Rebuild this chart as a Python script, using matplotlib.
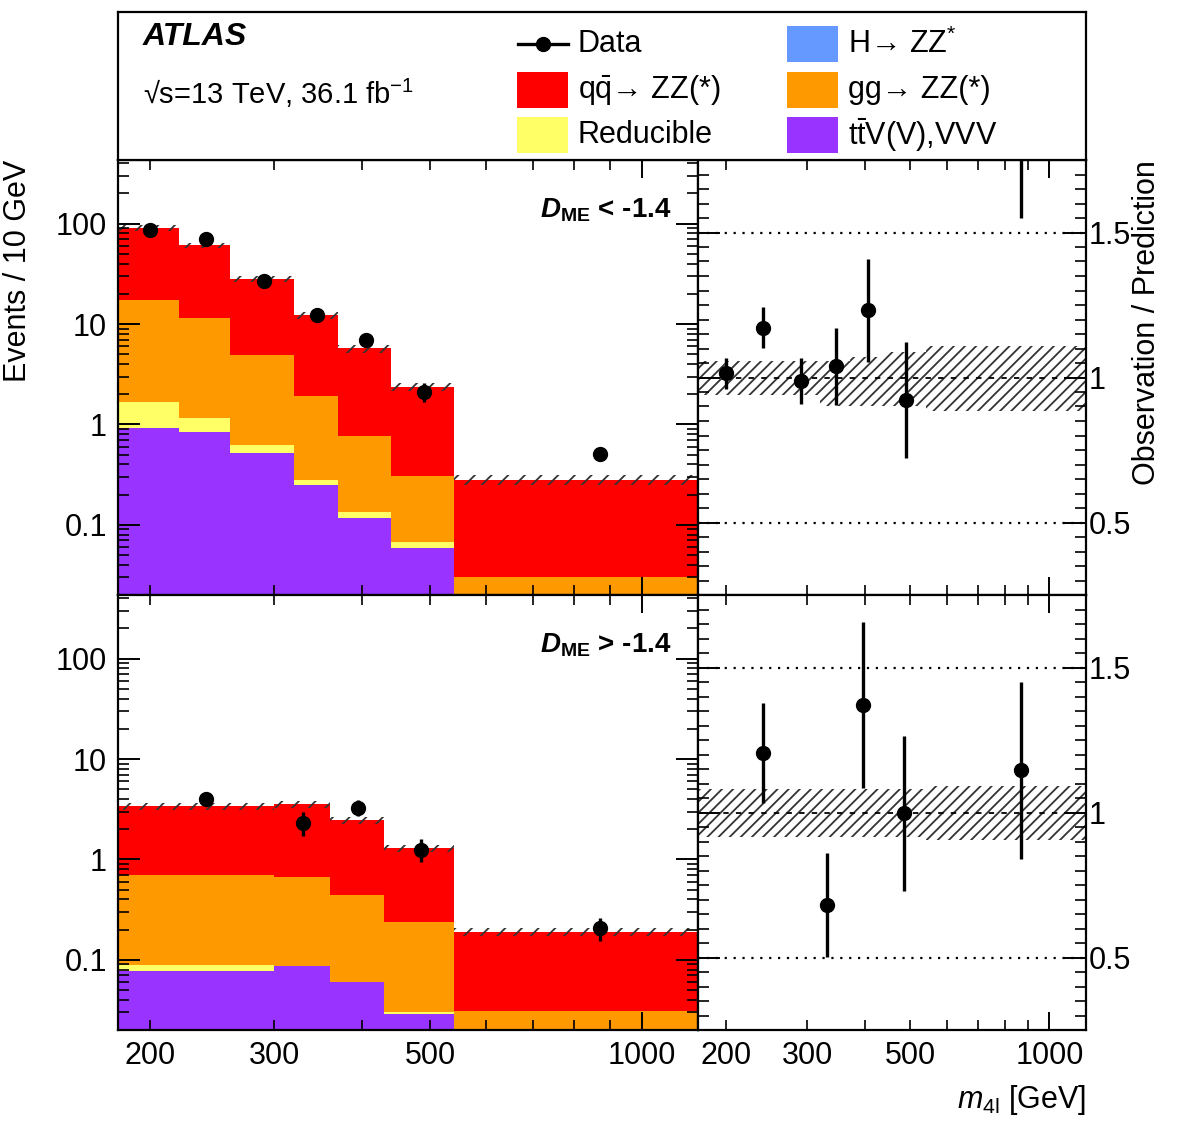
import numpy as np
import matplotlib
matplotlib.use("Agg")
import matplotlib.pyplot as plt
from matplotlib.patches import Rectangle
from matplotlib.lines import Line2D
from matplotlib.ticker import FixedLocator, FixedFormatter, FuncFormatter, NullFormatter, MultipleLocator

plt.rcParams.update({
    "font.family": "Liberation Sans",
    "mathtext.fontset": "custom",
    "mathtext.rm": "Liberation Sans",
    "mathtext.it": "Liberation Sans:italic",
    "mathtext.bf": "Liberation Sans:bold",
    "mathtext.bfit": "Liberation Sans:italic:bold",
    "hatch.color": "#333333",
    "hatch.linewidth": 1.3,
    "axes.linewidth": 1.6,
})

# ---------------- data ----------------
# D_ME < -1.4
up_edges = [180, 220, 260, 320, 370, 440, 540, 1200]
up_centers = [200, 240, 290, 345, 405, 490, 870]
up_ttv = [0.93, 0.85, 0.52, 0.25, 0.117, 0.059, 0.003]
up_redu = [0.73, 0.30, 0.11, 0.030, 0.016, 0.009, 0.0]
up_higgs = [0.0, 0.0, 0.0, 0.0, 0.0, 0.0, 0.0]
up_gg = [15.5, 10.3, 4.28, 1.62, 0.64, 0.24, 0.027]
up_qq = [73.4, 49.7, 23.3, 10.5, 4.96, 2.05, 0.25]
up_data = [87.3, 69.5, 26.7, 12.4, 6.87, 2.11, 0.503]
up_data_lo = [5.0, 4.5, 2.6, 1.7, 1.0, 0.42, 0.05]
up_data_hi = [5.5, 5.0, 2.8, 1.9, 1.1, 0.45, 0.06]
up_ratio = [1.015, 1.172, 0.989, 1.038, 1.232, 0.923, 1.80]
up_ratio_lo = [0.054, 0.071, 0.080, 0.132, 0.177, 0.201, 0.25]
up_ratio_hi = [0.052, 0.072, 0.078, 0.132, 0.178, 0.201, 0.30]
up_band_lo = [0.938, 0.938, 0.938, 0.903, 0.903, 0.903, 0.886]
up_band_hi = [1.058, 1.058, 1.058, 1.058, 1.070, 1.088, 1.110]

# D_ME > -1.4
lo_edges = [180, 300, 360, 430, 540, 1200]
lo_centers = [240, 330, 395, 485, 870]
lo_ttv = [0.077, 0.087, 0.060, 0.029, 0.003]
lo_redu = [0.011, 0.0, 0.0, 0.0014, 0.0]
lo_higgs = [0.0, 0.0, 0.0, 0.0, 0.0]
lo_gg = [0.618, 0.575, 0.380, 0.207, 0.028]
lo_qq = [2.70, 2.89, 2.03, 1.06, 0.160]
lo_data = [4.00, 2.30, 3.26, 1.25, 0.209]
lo_data_lo = [0.45, 0.57, 0.54, 0.31, 0.054]
lo_data_hi = [0.50, 0.64, 0.66, 0.35, 0.054]
lo_ratio = [1.205, 0.680, 1.370, 0.998, 1.145]
lo_ratio_lo = [0.173, 0.179, 0.284, 0.267, 0.306]
lo_ratio_hi = [0.174, 0.181, 0.286, 0.265, 0.304]
lo_band_lo = [0.917, 0.917, 0.917, 0.917, 0.906]
lo_band_hi = [1.080, 1.080, 1.080, 1.080, 1.092]

C_QQ = "#ff0000"
C_GG = "#ff9900"
C_H = "#6699ff"
C_RED = "#ffff66"
C_TTV = "#9933ff"

MAIN_XLIM = (180, 1200)
RATIO_XLIM = (174, 1200)
MAIN_YLIM = (0.02, 430)
RATIO_YLIM = (0.25, 1.75)
FS = 22

W, H = 1182, 1146
fig = plt.figure(figsize=(W / 100, H / 100), dpi=100)


def px_axes(x0, y0, x1, y1):
    return fig.add_axes([x0 / W, 1 - y1 / H, (x1 - x0) / W, (y1 - y0) / H])


def style_x(ax, labels):
    ax.set_xscale("log")
    ax.xaxis.set_major_locator(FixedLocator([1000]))
    ax.xaxis.set_minor_locator(FixedLocator(list(range(200, 1000, 100))))
    if labels:
        ax.xaxis.set_major_formatter(FixedFormatter(["1000"]))
        ax.xaxis.set_minor_formatter(FuncFormatter(
            lambda v, p: str(int(round(v))) if int(round(v)) in (200, 300, 500) else ""))
    else:
        ax.xaxis.set_major_formatter(NullFormatter())
        ax.xaxis.set_minor_formatter(NullFormatter())
    ax.tick_params(axis="x", which="major", length=13, width=1.4, direction="in",
                   top=True, bottom=True, labelsize=FS, pad=8)
    ax.tick_params(axis="x", which="minor", length=7, width=1.2, direction="in",
                   top=True, bottom=True, labelsize=FS, pad=8)


def main_panel(ax, edges, centers, comps, data, dlo, dhi, blo, bhi, label, xlabels):
    comps = [np.asarray(c, float) for c in comps]
    cum = np.cumsum(comps, axis=0)
    colors = [C_TTV, C_RED, C_H, C_GG, C_QQ]
    for k in range(len(comps) - 1, -1, -1):
        ax.stairs(cum[k], edges, baseline=1e-5, fill=True, color=colors[k], lw=0)
    total = cum[-1]
    ax.stairs(total * np.asarray(bhi), edges, baseline=total * np.asarray(blo), fill=True,
              facecolor="none", edgecolor="#333333", hatch="//", lw=0)
    ax.errorbar(centers, data, yerr=[dlo, dhi], fmt="o", color="black", ms=10,
                elinewidth=2.4, capsize=0, zorder=5)
    ax.set_yscale("log")
    ax.set_xlim(*MAIN_XLIM)
    ax.set_ylim(*MAIN_YLIM)
    ax.yaxis.set_major_locator(FixedLocator([0.1, 1, 10, 100]))
    ax.yaxis.set_major_formatter(FixedFormatter(["0.1", "1", "10", "100"]))
    minors = [m * 10.0 ** e for e in range(-2, 3) for m in range(2, 10)]
    ax.yaxis.set_minor_locator(FixedLocator(minors))
    ax.yaxis.set_minor_formatter(NullFormatter())
    ax.tick_params(axis="y", which="major", length=16, width=1.4, direction="in",
                   left=True, right=True, labelsize=FS, pad=8)
    ax.tick_params(axis="y", which="minor", length=8, width=1.2, direction="in",
                   left=True, right=True)
    style_x(ax, xlabels)
    ax.text(0.955, 0.885, label, transform=ax.transAxes, ha="right", va="center",
            fontsize=20, fontweight="bold")


def ratio_panel(ax, edges, centers, ratio, rlo, rhi, blo, bhi, xlabels):
    band_edges = np.r_[RATIO_XLIM[0], edges[1:]]
    ax.stairs(bhi, band_edges, baseline=blo, fill=True, facecolor="none",
              edgecolor="#333333", hatch="///", lw=0)
    ax.axhline(1.0, color="black", lw=1.3, ls=(0, (3, 4)))
    for v in (0.5, 1.5):
        ax.axhline(v, color="black", lw=1.6, ls=(0, (1, 3)))
    ax.errorbar(centers, ratio, yerr=[rlo, rhi], fmt="o", color="black", ms=10,
                elinewidth=2.4, capsize=0, zorder=5)
    ax.set_xlim(*RATIO_XLIM)
    ax.set_ylim(*RATIO_YLIM)
    ax.yaxis.set_major_locator(FixedLocator([0.5, 1.0, 1.5]))
    ax.yaxis.set_major_formatter(FixedFormatter(["0.5", "1", "1.5"]))
    ax.yaxis.set_minor_locator(MultipleLocator(0.05))
    ax.tick_params(axis="y", which="major", length=16, width=1.4, direction="in",
                   left=True, right=True, labelleft=False, labelright=True,
                   labelsize=FS, pad=2)
    ax.tick_params(axis="y", which="minor", length=8, width=1.2, direction="in",
                   left=True, right=True)
    style_x(ax, xlabels)
    ax.set_xlim(*RATIO_XLIM)


ax_up = px_axes(118, 160, 698, 595)
ax_upr = px_axes(698, 160, 1086, 595)
ax_lo = px_axes(118, 595, 698, 1030)
ax_lor = px_axes(698, 595, 1086, 1030)

main_panel(ax_up, up_edges, up_centers, [up_ttv, up_redu, up_higgs, up_gg, up_qq],
           up_data, up_data_lo, up_data_hi, up_band_lo, up_band_hi,
           r"$\mathbfit{D}_{\mathbf{ME}}$ < -1.4", False)
main_panel(ax_lo, lo_edges, lo_centers, [lo_ttv, lo_redu, lo_higgs, lo_gg, lo_qq],
           lo_data, lo_data_lo, lo_data_hi, lo_band_lo, lo_band_hi,
           r"$\mathbfit{D}_{\mathbf{ME}}$ > -1.4", True)
ratio_panel(ax_upr, up_edges, up_centers, up_ratio, up_ratio_lo, up_ratio_hi,
            up_band_lo, up_band_hi, False)
ratio_panel(ax_lor, lo_edges, lo_centers, lo_ratio, lo_ratio_lo, lo_ratio_hi,
            lo_band_lo, lo_band_hi, True)

# ---------------- legend box ----------------
ax_leg = px_axes(118, 12, 1086, 160)
ax_leg.set_xlim(118, 1086)
ax_leg.set_ylim(160, 12)
ax_leg.set_xticks([])
ax_leg.set_yticks([])

ax_leg.text(143, 37, "ATLAS", fontsize=23, fontweight="bold", fontstyle="italic",
            ha="left", va="center")
ax_leg.text(143, 93, "√s=13 TeV, 36.1 fb$^{\\mathrm{-1}}$", fontsize=21,
            ha="left", va="center")

ax_leg.add_line(Line2D([518, 568], [44, 44], color="black", lw=2.4))
ax_leg.plot([543], [44], "o", color="black", ms=10)
ax_leg.text(578, 44, "Data", fontsize=FS, ha="left", va="center")

entries = [
    (517, 90, C_QQ, r"$\mathrm{q\bar{q}}$→ ZZ(*)"),
    (517, 135, C_RED, "Reducible"),
    (787, 44, C_H, r"H→ ZZ$^{*}$"),
    (787, 90, C_GG, "gg→ ZZ(*)"),
    (787, 135, C_TTV, r"$\mathrm{t\bar{t}}$V(V),VVV"),
]
for x0, yc, col, lab in entries:
    ax_leg.add_patch(Rectangle((x0, yc - 18), 51, 36, facecolor=col, edgecolor="none"))
    ax_leg.text(x0 + 61, yc, lab, fontsize=FS, ha="left", va="center")

# ---------------- axis titles ----------------
fig.text(18 / W, 1 - 160 / H, "Events / 10 GeV", rotation=90, ha="center", va="top",
         fontsize=FS)
fig.text(1147 / W, 1 - 160 / H, "Observation / Prediction", rotation=90, ha="center",
         va="top", fontsize=FS)
fig.text(1086 / W, 1 - 1100 / H, r"$m_{\mathrm{4l}}$ [GeV]", ha="right", va="center",
         fontsize=FS)

fig.savefig("out.png", dpi=100)
